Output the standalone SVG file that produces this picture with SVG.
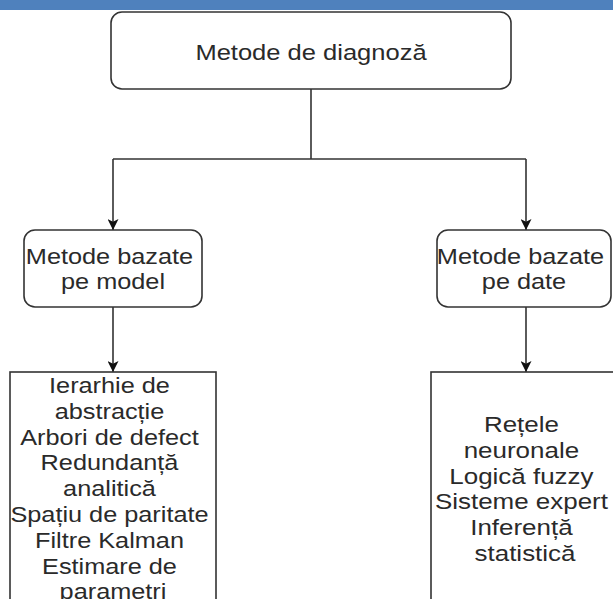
<svg xmlns="http://www.w3.org/2000/svg" width="613" height="599" viewBox="0 0 613 599">
  <defs>
    <style>
      .box { fill: #ffffff; stroke: #333333; stroke-width: 1.6; }
      .edge { fill: none; stroke: #333333; stroke-width: 1.6; }
      .t { font-family: "Liberation Sans", Arial, sans-serif; font-size: 22px; fill: #2a2a2a; text-anchor: middle; }
    </style>
    <marker id="arrow" viewBox="0 0 10 10" refX="10" refY="5" markerWidth="11" markerHeight="11" markerUnits="userSpaceOnUse" orient="auto">
      <path d="M0,0 L10,5 L0,10 L2.5,5 z" fill="#111111"/>
    </marker>
  </defs>

  <rect x="0" y="0" width="613" height="10" fill="#4f81bd"/>

  <g id="connectors">
    <path class="edge" d="M311,89 V159"/>
    <path class="edge" d="M113,159 H526"/>
    <path class="edge" d="M113,159 V230" marker-end="url(#arrow)"/>
    <path class="edge" d="M526,159 V230" marker-end="url(#arrow)"/>
    <path class="edge" d="M113,307 V372" marker-end="url(#arrow)"/>
    <path class="edge" d="M526,307 V372" marker-end="url(#arrow)"/>
  </g>

  <g id="root">
    <rect class="box" x="111" y="12" width="400" height="77" rx="11"/>
    <text class="t" transform="translate(311,59.5) scale(1.16,1)">Metode de diagnoză</text>
  </g>

  <g id="model-based">
    <rect class="box" x="24" y="230" width="178" height="77" rx="11"/>
    <text class="t" transform="translate(113,263.5) scale(1.15,1)">
      <tspan x="0" dy="0">Metode bazate</tspan>
      <tspan x="0" dy="26">pe model</tspan>
    </text>
  </g>

  <g id="data-based">
    <rect class="box" x="437" y="230" width="174" height="77" rx="11"/>
    <text class="t" transform="translate(524,263.5) scale(1.15,1)">
      <tspan x="0" dy="0">Metode bazate</tspan>
      <tspan x="0" dy="26">pe date</tspan>
    </text>
  </g>

  <g id="model-methods">
    <rect class="box" x="10" y="372" width="206" height="260"/>
    <text class="t" transform="translate(113,393) scale(1.15,1)">
      <tspan x="0" dy="0">Ierarhie de</tspan>
      <tspan x="0" dy="25.8">abstracție</tspan>
      <tspan x="0" dy="25.8">Arbori de defect</tspan>
      <tspan x="0" dy="25.8">Redundanță</tspan>
      <tspan x="0" dy="25.8">analitică</tspan>
      <tspan x="0" dy="25.8">Spațiu de paritate</tspan>
      <tspan x="0" dy="25.8">Filtre Kalman</tspan>
      <tspan x="0" dy="25.8">Estimare de</tspan>
      <tspan x="0" dy="25.8">parametri</tspan>
    </text>
  </g>

  <g id="data-methods">
    <rect class="box" x="431" y="372" width="220" height="260"/>
    <text class="t" transform="translate(525,432) scale(1.18,1)">
      <tspan x="0" dy="0">Rețele</tspan>
      <tspan x="0" dy="25.8">neuronale</tspan>
      <tspan x="0" dy="25.8">Logică fuzzy</tspan>
      <tspan x="0" dy="25.8">Sisteme expert</tspan>
      <tspan x="0" dy="25.8">Inferență</tspan>
      <tspan x="0" dy="25.8">statistică</tspan>
    </text>
  </g>
</svg>
